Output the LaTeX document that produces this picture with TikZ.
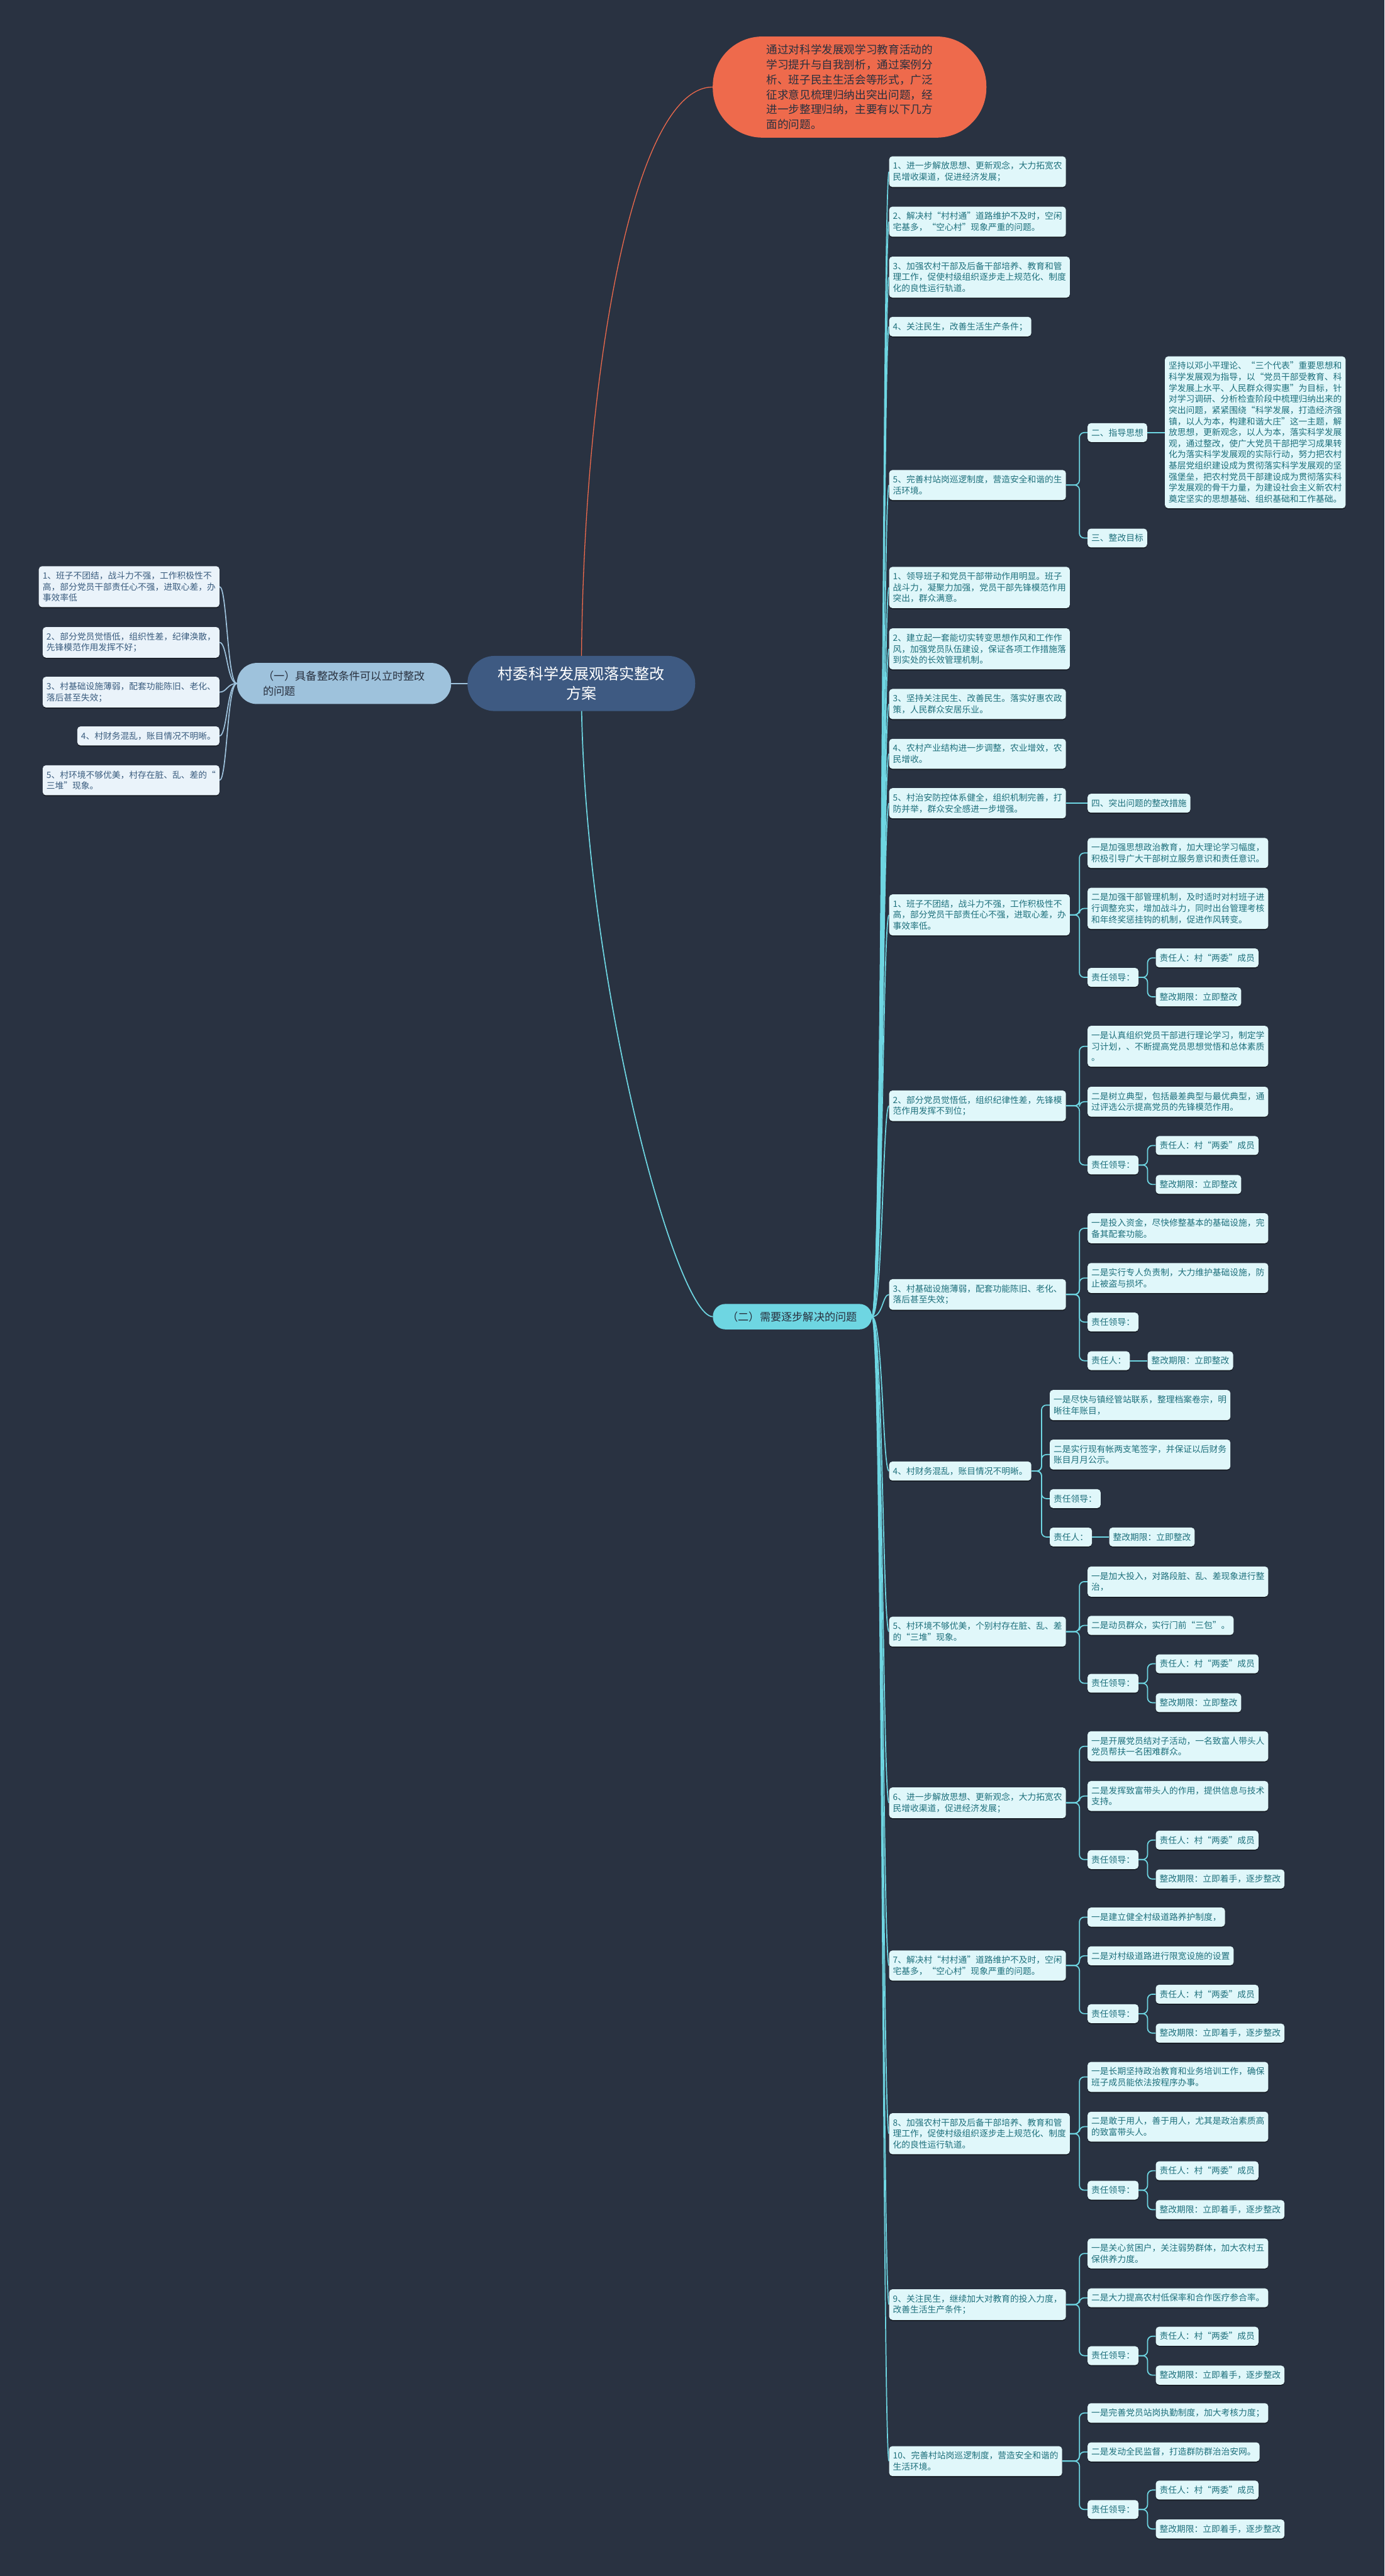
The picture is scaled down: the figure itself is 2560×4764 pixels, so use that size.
\documentclass[tikz,border=0pt]{standalone}
\usepackage{fontspec}
\setmainfont{Noto Sans CJK SC}
\usetikzlibrary{shadows}
\definecolor{bgc}{RGB}{41,50,65}
\definecolor{rootc}{RGB}{62,90,130}
\definecolor{notec}{RGB}{238,106,76}
\definecolor{cyanc}{RGB}{110,214,226}
\definecolor{leafc}{RGB}{224,247,250}
\definecolor{leaft}{RGB}{30,112,124}
\definecolor{bluec}{RGB}{158,194,220}
\definecolor{lleafc}{RGB}{234,243,250}
\definecolor{lleaft}{RGB}{58,92,126}
\definecolor{darkt}{RGB}{40,48,62}
\pgfdeclarelayer{back}
\pgfsetlayers{back,main}
\tikzset{
  leaf/.style={rectangle, rounded corners=6pt, fill=leafc, text=leaft, align=left,
    font=\fontsize{16}{20.5}\selectfont, inner xsep=7pt, inner ysep=10pt, anchor=west,
    drop shadow={shadow xshift=0pt, shadow yshift=-2pt, fill=black, opacity=.45}},
  lleaf/.style={leaf, fill=lleafc, text=lleaft, anchor=east},
  trunk/.style={draw=cyanc, line width=2pt},
  sub/.style={draw=cyanc, line width=2pt, rounded corners=9pt},
  lline/.style={draw=bluec, line width=2pt}
}
\begin{document}
\begin{tikzpicture}[x=1pt,y=-1pt]
\useasboundingbox (0,0) rectangle (2560,4764);
\begin{pgfonlayer}{back}
\fill[bgc] (0,0) rectangle (2560,4764);
\end{pgfonlayer}

\node[fill=rootc, text=white, font=\fontsize{28}{37}\selectfont, align=center, minimum width=421pt, minimum height=102pt, rounded corners=50pt, inner sep=0pt] (root) at (1075,1264) {村委科学发展观落实整改\\方案};
\node[fill=notec, text=darkt, font=\fontsize{20.5}{27.7}\selectfont, align=left, minimum width=506pt, minimum height=187pt, rounded corners=92pt, inner sep=0pt] (note) at (1571,161) {通过对科学发展观学习教育活动的\\学习提升与自我剖析，通过案例分\\析、班子民主生活会等形式，广泛\\征求意见梳理归纳出突出问题，经\\进一步整理归纳，主要有以下几方\\面的问题。};
\node[fill=bluec, text=darkt, font=\fontsize{20}{28}\selectfont, align=left, anchor=west, minimum width=396pt, minimum height=76pt, rounded corners=37pt, inner xsep=44pt] (b1) at (438,1264) {（一）具备整改条件可以立时整改\\的问题};
\node[fill=cyanc, text=darkt, font=\fontsize{20}{28}\selectfont, anchor=west, minimum height=47pt, rounded corners=23pt, inner xsep=27pt] (b2) at (1318,2435) {（二）需要逐步解决的问题};

\node[lleaf] (l1) at (406,1085) {1、班子不团结，战斗力不强，工作积极性不\\高，部分党员干部责任心不强，进取心差，办\\事效率低};
\node[lleaf] (l2) at (406,1188) {2、部分党员觉悟低，组织性差，纪律涣散，\\先锋模范作用发挥不好；};
\node[lleaf] (l3) at (406,1280) {3、村基础设施薄弱，配套功能陈旧、老化、\\落后甚至失效；};
\node[lleaf] (l4) at (406,1361) {4、村财务混乱，账目情况不明晰。};
\node[lleaf] (l5) at (406,1443) {5、村环境不够优美，村存在脏、乱、差的“\\三堆”现象。};

\node[leaf] (r1) at (1644,317.5) {1、进一步解放思想、更新观念，大力拓宽农\\民增收渠道，促进经济发展；};
\node[leaf] (r2) at (1644,410) {2、解决村“村村通”道路维护不及时，空闲\\宅基多，“空心村”现象严重的问题。};
\node[leaf] (r3) at (1644,512.5) {3、加强农村干部及后备干部培养、教育和管\\理工作，促使村级组织逐步走上规范化、制度\\化的良性运行轨道。};
\node[leaf] (r4) at (1644,604) {4、关注民生，改善生活生产条件；};
\node[leaf] (r5) at (1644,897) {5、完善村站岗巡逻制度，营造安全和谐的生\\活环境。};
\node[leaf] (r6) at (1644,1086.5) {1、领导班子和党员干部带动作用明显。班子\\战斗力，凝聚力加强，党员干部先锋模范作用\\突出，群众满意。};
\node[leaf] (r7) at (1644,1200) {2、建立起一套能切实转变思想作风和工作作\\风，加强党员队伍建设，保证各项工作措施落\\到实处的长效管理机制。};
\node[leaf] (r8) at (1644,1302) {3、坚持关注民生、改善民生。落实好惠农政\\策，人民群众安居乐业。};
\node[leaf] (r9) at (1644,1394) {4、农村产业结构进一步调整，农业增效，农\\民增收。};
\node[leaf] (r10) at (1644,1485.5) {5、村治安防控体系健全，组织机制完善，打\\防并举，群众安全感进一步增强。};
\node[leaf] (r11) at (1644,1692) {1、班子不团结，战斗力不强，工作积极性不\\高，部分党员干部责任心不强，进取心差，办\\事效率低。};
\node[leaf] (r12) at (1644,2045) {2、部分党员觉悟低，组织纪律性差，先锋模\\范作用发挥不到位；};
\node[leaf] (r13) at (1644,2394) {3、村基础设施薄弱，配套功能陈旧、老化、\\落后甚至失效；};
\node[leaf] (r14) at (1644,2720.5) {4、村财务混乱，账目情况不明晰。};
\node[leaf] (r15) at (1644,3017.5) {5、村环境不够优美，个别村存在脏、乱、差\\的“三堆”现象。};
\node[leaf] (r16) at (1644,3334) {6、进一步解放思想、更新观念，大力拓宽农\\民增收渠道，促进经济发展；};
\node[leaf] (r17) at (1644,3635) {7、解决村“村村通”道路维护不及时，空闲\\宅基多，“空心村”现象严重的问题。};
\node[leaf] (r18) at (1644,3946) {8、加强农村干部及后备干部培养、教育和管\\理工作，促使村级组织逐步走上规范化、制度\\化的良性运行轨道。};
\node[leaf] (r19) at (1644,4262) {9、关注民生，继续加大对教育的投入力度，\\改善生活生产条件；};
\node[leaf] (r20) at (1644,4551.5) {10、完善村站岗巡逻制度，营造安全和谐的\\生活环境。};

\node[leaf] (r5a) at (2011,800) {二、指导思想};
\node[leaf] (r5x) at (2154,799.5) {坚持以邓小平理论、“三个代表”重要思想和\\科学发展观为指导，以“党员干部受教育、科\\学发展上水平、人民群众得实惠”为目标，针\\对学习调研、分析检查阶段中梳理归纳出来的\\突出问题，紧紧围绕“科学发展，打造经济强\\镇，以人为本，构建和谐大庄”这一主题，解\\放思想，更新观念，以人为本，落实科学发展\\观，通过整改，使广大党员干部把学习成果转\\化为落实科学发展观的实际行动，努力把农村\\基层党组织建设成为贯彻落实科学发展观的坚\\强堡垒，把农村党员干部建设成为贯彻落实科\\学发展观的骨干力量，为建设社会主义新农村\\奠定坚实的思想基础、组织基础和工作基础。};
\node[leaf] (r5b) at (2011,995) {三、整改目标};
\node[leaf] (r10a) at (2011,1485.5) {四、突出问题的整改措施};

\node[leaf] (r11a) at (2011,1577.5) {一是加强思想政治教育，加大理论学习幅度，\\积极引导广大干部树立服务意识和责任意识。};
\node[leaf] (r11b) at (2011,1680) {二是加强干部管理机制，及时适时对村班子进\\行调整充实，增加战斗力，同时出台管理考核\\和年终奖惩挂钩的机制，促进作风转变。};
\node[leaf] (r12a) at (2011,1935) {一是认真组织党员干部进行理论学习，制定学\\习计划，、不断提高党员思想觉悟和总体素质\\。};
\node[leaf] (r12b) at (2011,2037.5) {二是树立典型，包括最差典型与最优典型，通\\过评选公示提高党员的先锋模范作用。};
\node[leaf] (r13a) at (2011,2271.5) {一是投入资金，尽快修整基本的基础设施，完\\备其配套功能。};
\node[leaf] (r13b) at (2011,2363.5) {二是实行专人负责制，大力维护基础设施，防\\止被盗与损坏。};
\node[leaf] (r13c) at (2011,2445) {责任领导：};
\node[leaf] (r13d) at (2011,2516.5) {责任人：};
\node[leaf] (r13e) at (2122,2516.5) {整改期限：立即整改};
\node[leaf] (r14a) at (1941,2598.5) {一是尽快与镇经管站联系，整理档案卷宗，明\\晰往年账目，};
\node[leaf] (r14b) at (1941,2690) {二是实行现有帐两支笔签字，并保证以后财务\\账目月月公示。};
\node[leaf] (r14c) at (1941,2771.5) {责任领导：};
\node[leaf] (r14d) at (1941,2842.5) {责任人：};
\node[leaf] (r14e) at (2051,2842.5) {整改期限：立即整改};
\node[leaf] (r15a) at (2011,2925) {一是加大投入，对路段脏、乱、差现象进行整\\治，};
\node[leaf] (r15b) at (2011,3006) {二是动员群众，实行门前“三包”。};
\node[leaf] (r16a) at (2011,3229.5) {一是开展党员结对子活动，一名致富人带头人\\党员帮扶一名困难群众。};
\node[leaf] (r16b) at (2011,3321.5) {二是发挥致富带头人的作用，提供信息与技术\\支持。};
\node[leaf] (r17a) at (2011,3545.5) {一是建立健全村级道路养护制度，};
\node[leaf] (r17b) at (2011,3617) {二是对村级道路进行限宽设施的设置};
\node[leaf] (r18a) at (2011,3841) {一是长期坚持政治教育和业务培训工作，确保\\班子成员能依法按程序办事。};
\node[leaf] (r18b) at (2011,3933) {二是敢于用人，善于用人，尤其是政治素质高\\的致富带头人。};
\node[leaf] (r19a) at (2011,4167.5) {一是关心贫困户，关注弱势群体，加大农村五\\保供养力度。};
\node[leaf] (r19b) at (2011,4249.5) {二是大力提高农村低保率和合作医疗参合率。};
\node[leaf] (r20a) at (2011,4462.5) {一是完善党员站岗执勤制度，加大考核力度；};
\node[leaf] (r20b) at (2011,4534.5) {二是发动全民监督，打造群防群治治安网。};

\foreach \n/\y/\t in {r11/1807.5/立即整改, r12/2154.5/立即整改, r15/3113/立即整改, r16/3439/立即着手，逐步整改, r17/3724/立即着手，逐步整改, r18/4050.5/立即着手，逐步整改, r19/4356.5/立即着手，逐步整改, r20/4641/立即着手，逐步整改} {
  \node[leaf] (\n c) at (2011,\y) {责任领导：};
  \node[leaf] (\n p) at (2137,\y-36) {责任人：村“两委”成员};
  \node[leaf] (\n q) at (2137,\y+36) {整改期限：\t};
}

\begin{pgfonlayer}{back}
\draw[notec, line width=1.5pt] (root.center) .. controls (1075,700) and (1170,161) .. (note.west);
\draw[trunk] (root.center) .. controls (1075,1800) and (1250,2435) .. (b2.west);
\draw[lline] (root.center) -- (b1.east);
\foreach \c in {l1,l2,l3,l4,l5}
  \draw[lline] (b1.west) .. controls ([xshift=-18pt]b1.west) and ([xshift=14pt]\c.east) .. (\c.east);
\foreach \c in {r1,r2,r3,r4,r5,r6,r7,r8,r9,r10,r11,r12,r13,r14,r15,r16,r17,r18,r19,r20}
  \draw[trunk] (b2.east) .. controls ([xshift=20pt]b2.east) and ([xshift=-12pt]\c.west) .. (\c.west);
\foreach \p/\c in {r5/r5a, r5/r5b, r13/r13a, r13/r13b, r13/r13c, r13/r13d, r14/r14a, r14/r14b, r14/r14c, r14/r14d}
  \draw[sub] (\p.east) -| ([xshift=-15pt]\c.west) -- (\c.west);
\foreach \n in {r11,r12,r15,r16,r17,r18,r19,r20} {
  \foreach \k in {a,b,c}
    \draw[sub] (\n.east) -| ([xshift=-15pt]\n\k.west) -- (\n\k.west);
  \draw[sub] (\n c.east) -| ([xshift=-15pt]\n p.west) -- (\n p.west);
  \draw[sub] (\n c.east) -| ([xshift=-15pt]\n q.west) -- (\n q.west);
}
\draw[sub] (r5a.east) -- (r5a.east -| r5x.west);
\draw[sub] (r10.east) -- (r10.east -| r10a.west);
\draw[sub] (r13d.east) -- (r13d.east -| r13e.west);
\draw[sub] (r14d.east) -- (r14d.east -| r14e.west);
\end{pgfonlayer}
\end{tikzpicture}
\end{document}
